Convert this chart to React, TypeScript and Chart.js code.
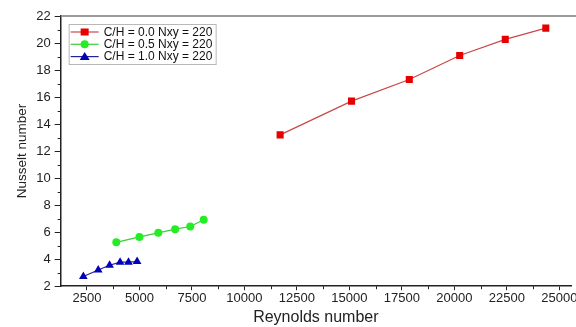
import React, { useEffect, useRef } from "react";
import { Chart, registerables } from "chart.js";

Chart.register(...registerables);

const seriesLabels = ["C/H = 0.0 Nxy = 220", "C/H = 0.5 Nxy = 220", "C/H = 1.0 Nxy = 220"];

const reA = [11700, 15100, 17850, 20250, 22420, 24350];
const nuA = [13.2, 15.7, 17.3, 19.08, 20.27, 21.1];

const reB = [3900, 5000, 5900, 6700, 7420, 8060];
const nuB = [5.25, 5.65, 5.95, 6.22, 6.42, 6.92];

const reC = [2330, 3040, 3580, 4080, 4480, 4890];
const nuC = [2.72, 3.2, 3.55, 3.78, 3.78, 3.82];

const xTicks = [2500, 5000, 7500, 10000, 12500, 15000, 17500, 20000, 22500, 25000];
const yTicks = [2, 4, 6, 8, 10, 12, 14, 16, 18, 20, 22];

const FONT = "'Liberation Sans', Arial, sans-serif";

const colors = [
  { line: "#c84848", point: "#e60000", style: "rect", radius: 5 },
  { line: "#3ccc3c", point: "#22ee22", style: "circle", radius: 4 },
  { line: "#22229a", point: "#0000b4", style: "triangle", radius: 5 },
];

export default function App() {
  const ref = useRef<HTMLCanvasElement | null>(null);

  useEffect(() => {
    document.body.style.margin = "0";
    const canvas = ref.current;
    if (!canvas) return;

    const extras = {
      id: "extras",
      afterDraw(chart: any) {
        const ctx = chart.ctx;
        const ca = chart.chartArea;
        const xs = chart.scales.x;
        const ys = chart.scales.y;
        ctx.save();
        // top border
        ctx.strokeStyle = "#7a7a7a";
        ctx.lineWidth = 1.5;
        ctx.beginPath();
        ctx.moveTo(ca.left, ca.top);
        ctx.lineTo(576, ca.top);
        ctx.stroke();
        // minor ticks
        ctx.strokeStyle = "#222";
        ctx.lineWidth = 1;
        for (let v = 1250; v <= xs.max; v += 2500) {
          const px = Math.round(xs.getPixelForValue(v)) + 0.5;
          if (px < ca.left + 1) continue;
          ctx.beginPath();
          ctx.moveTo(px, ca.bottom);
          ctx.lineTo(px, ca.bottom + 3);
          ctx.stroke();
        }
        for (let v = 3; v < 22; v += 2) {
          const py = Math.round(ys.getPixelForValue(v)) + 0.5;
          ctx.beginPath();
          ctx.moveTo(ca.left, py);
          ctx.lineTo(ca.left - 3, py);
          ctx.stroke();
        }
        // legend
        const bx = ca.left + 8;
        const by = ca.top + 8;
        const bw = 147;
        const bh = 40;
        ctx.fillStyle = "#fff";
        ctx.fillRect(bx, by, bw, bh);
        ctx.strokeStyle = "#b8b8b8";
        ctx.lineWidth = 1;
        ctx.strokeRect(bx + 0.5, by + 0.5, bw, bh);
        ctx.font = `12px ${FONT}`;
        ctx.textBaseline = "middle";
        ctx.textAlign = "left";
        seriesLabels.forEach((lab, i) => {
          const y = by + 8 + i * 12.3;
          const c = colors[i];
          ctx.strokeStyle = c.line;
          ctx.lineWidth = 1.2;
          ctx.beginPath();
          ctx.moveTo(bx + 2, y);
          ctx.lineTo(bx + 30, y);
          ctx.stroke();
          ctx.fillStyle = c.point;
          const mx = bx + 16;
          if (c.style === "rect") {
            ctx.fillRect(mx - 4, y - 3.5, 8, 7);
          } else if (c.style === "circle") {
            ctx.beginPath();
            ctx.arc(mx, y, 4, 0, Math.PI * 2);
            ctx.fill();
          } else {
            ctx.beginPath();
            ctx.moveTo(mx, y - 4.5);
            ctx.lineTo(mx + 5, y + 3.5);
            ctx.lineTo(mx - 5, y + 3.5);
            ctx.closePath();
            ctx.fill();
          }
          ctx.fillStyle = "#111";
          ctx.fillText(lab, bx + 35, y + 0.5);
        });
        ctx.restore();
      },
    };

    const mk = (xs: number[], ys: number[], i: number) => ({
      label: seriesLabels[i],
      data: xs.map((x, k) => ({ x, y: ys[k] })),
      borderColor: colors[i].line,
      borderWidth: 1.2,
      backgroundColor: colors[i].point,
      pointBackgroundColor: colors[i].point,
      pointBorderColor: colors[i].point,
      pointStyle: colors[i].style,
      pointRadius: colors[i].radius,
      pointBorderWidth: 0,
      showLine: true,
      tension: 0,
    });

    const chart = new Chart(canvas, {
      type: "scatter",
      data: {
        datasets: [mk(reA, nuA, 0), mk(reB, nuB, 1), mk(reC, nuC, 2)],
      },
      options: {
        animation: false,
        responsive: false,
        maintainAspectRatio: false,
        layout: { padding: { top: 16, right: 0, bottom: 0, left: 9 } },
        plugins: { legend: { display: false }, tooltip: { enabled: false } },
        scales: {
          x: {
            type: "linear",
            min: 1250,
            max: 25550,
            afterBuildTicks: (s: any) => {
              s.ticks = xTicks.map((v) => ({ value: v }));
            },
            afterFit: (s: any) => {
              s.paddingRight = 0;
            },
            grid: { display: true, drawOnChartArea: false, drawTicks: true, tickLength: 4, color: "#222" },
            border: { display: true, color: "#222", width: 1.5 },
            ticks: {
              color: "#222",
              font: { family: FONT, size: 13 },
              padding: 0,
              maxRotation: 0,
              autoSkip: false,
              callback: (v: any) => String(v),
            },
            title: { display: true, text: "Reynolds number", color: "#222", font: { family: FONT, size: 16 }, padding: { top: 2, bottom: 0 } },
          },
          y: {
            type: "linear",
            min: 2,
            max: 22,
            afterBuildTicks: (s: any) => {
              s.ticks = yTicks.map((v) => ({ value: v }));
            },
            grid: { display: true, drawOnChartArea: false, drawTicks: true, tickLength: 6, color: "#222" },
            border: { display: true, color: "#222", width: 1.5 },
            ticks: { color: "#222", font: { family: FONT, size: 13 }, padding: 4, autoSkip: false, callback: (v: any) => String(v) },
            title: { display: true, text: "Nusselt number", color: "#222", font: { family: FONT, size: 13.5 }, padding: { top: 5, bottom: 2 } },
          },
        },
      },
      plugins: [extras],
    } as any);

    return () => chart.destroy();
  }, []);

  return (
    <div style={{ width: 576, height: 327, background: "#fff" }}>
      <canvas ref={ref} width={576} height={327} style={{ display: "block", width: 576, height: 327 }} />
    </div>
  );
}
